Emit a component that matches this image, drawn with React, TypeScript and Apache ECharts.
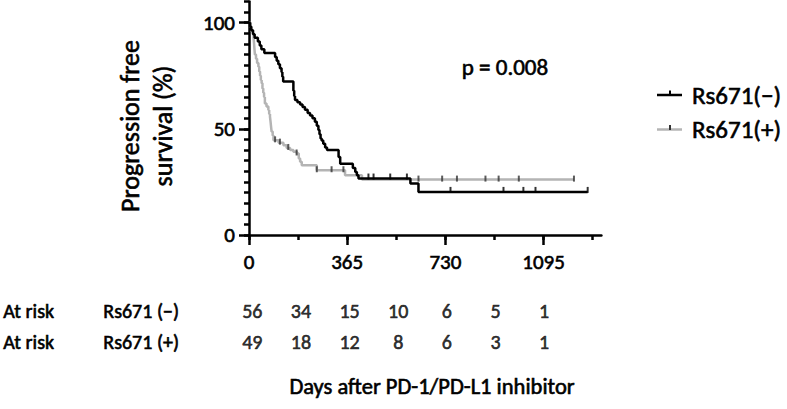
import React, { useEffect, useRef } from "react";
import * as echarts from "echarts";

// ---- Kaplan–Meier curves (day, survival %) ----
const blackDays = [0, 4, 8, 15, 21, 33, 40, 46, 57, 97, 103, 109, 115, 121, 124, 127, 165, 168, 171, 180, 190, 199, 208, 218, 227, 236, 245, 252, 258, 262, 266, 270, 276, 283, 290, 333, 339, 386, 395, 401, 407, 600, 630, 1259];
const blackSurv = [100, 98.2, 96.4, 94.6, 92.9, 91.1, 89.3, 87.5, 85.7, 83.9, 82.1, 80.4, 78.6, 76.8, 74.5, 72.3, 68, 65.5, 63.6, 62.5, 61.5, 60.3, 59, 57.5, 56.3, 55, 53.4, 51.5, 49.5, 47.5, 45.5, 44.5, 43, 41.2, 40, 36.8, 33.6, 31.6, 29.7, 28.1, 26.6, 24.3, 20.3, 20.3];

const grayDays = [0, 6, 10, 14, 17, 19, 20, 22, 26, 30, 35, 38, 41, 44, 47, 50, 53, 56, 59, 65, 72, 75, 78, 80, 82, 84, 88, 91, 110, 128, 140, 153, 165, 178, 185, 190, 196, 252, 357, 420, 1208];
const graySurv = [100, 98, 96, 95, 93, 90, 88, 85, 83, 81, 79.3, 77, 75, 73, 71.5, 69, 67, 65, 62, 60.5, 58.9, 57, 55.7, 53.5, 51, 48.7, 46.9, 44.6, 43.5, 42.3, 41, 40, 39.2, 38.4, 36, 34.5, 32.9, 30.5, 28.2, 26.1, 26.1];

// censored observations
const blackCensorDays = [444, 463, 525, 587, 749, 946, 1020, 1065, 1259];
const blackCensorSurv = [26.6, 26.6, 26.6, 26.6, 20.3, 20.3, 20.3, 20.3, 20.3];
const grayCensorDays = [97, 115, 146, 177, 252, 307, 351, 630, 718, 773, 879, 928, 1003, 1208];
const grayCensorSurv = [44.6, 43.5, 41, 38.4, 30.5, 30.5, 30.5, 26.1, 26.1, 26.1, 26.1, 26.1, 26.1, 26.1];

// ---- number at risk ----
const riskDays = [0, 182.5, 365, 547.5, 730, 912.5, 1095];
const riskNeg = [56, 34, 15, 10, 6, 5, 1];
const riskPos = [49, 18, 12, 8, 6, 3, 1];
const riskRows = ["Rs671 (+)", "Rs671 (−)"];

// ---- ticks ----
const xMajorTicks = [0, 365, 730, 1095];
const xMinorTicks = [0, 182.5, 365, 547.5, 730, 912.5, 1095, 1277.5];
const yMajorTicks = [0, 50, 100];
const yMinorTicks = [0, 5, 10, 15, 20, 25, 30, 35, 40, 45, 50, 55, 60, 65, 70, 75, 80, 85, 90, 95, 100, 105, 110];

const FONT = "Carlito, Lato, 'Noto Sans', sans-serif";
const X_MAX = 1310;
const Y_MAX = 110;
const BOLDEN = 0.6;

export default function App() {
  const ref = useRef<HTMLDivElement>(null);
  useEffect(() => {
    if (!ref.current) return;
    const chart = echarts.init(ref.current, undefined, { renderer: "svg" });
    const zip = (a: number[], b: number[]) => a.map((v, i) => [v, b[i]]);
    const axisLineStyle = { color: "#000", width: 2.5 };
    const txt = (size: number) => ({
      fontSize: size, fontFamily: FONT, color: "#000",
      textBorderColor: "#000", textBorderWidth: BOLDEN,
    });
    const gtxt = (text: string, size: number, align: string) => ({
      text, fontSize: size, fontFamily: FONT, fill: "#000", stroke: "#000", lineWidth: BOLDEN,
      align, verticalAlign: "middle",
    });
    const riskLabel = {
      show: true, position: "inside", formatter: (p: any) => String(p.value[2]), ...txt(20),
    };
    const option: any = {
      animation: false,
      backgroundColor: "#fff",
      grid: [
        { left: 249, top: 1.5, width: 352.4, height: 233.5 },
        { left: 249, top: 295.2, width: 352.4, height: 62 },
      ],
      xAxis: [
        {
          type: "value", gridIndex: 0, min: 0, max: X_MAX, position: "bottom",
          axisLine: { lineStyle: axisLineStyle },
          axisTick: { show: true, customValues: xMinorTicks, length: 5, lineStyle: axisLineStyle },
          axisLabel: { show: false },
          splitLine: { show: false },
        },
        {
          type: "value", gridIndex: 0, min: 0, max: X_MAX, position: "bottom",
          axisLine: { show: false },
          axisTick: { show: true, customValues: xMajorTicks, length: 10, lineStyle: axisLineStyle },
          axisLabel: {
            show: true, customValues: xMajorTicks, formatter: (v: number) => String(v),
            margin: 16, ...txt(21),
          },
          splitLine: { show: false },
        },
        { type: "value", gridIndex: 1, min: 0, max: X_MAX, show: false },
      ],
      yAxis: [
        {
          type: "value", gridIndex: 0, min: 0, max: Y_MAX, position: "left",
          axisLine: { show: true, lineStyle: axisLineStyle },
          axisTick: { show: true, customValues: yMinorTicks, length: 5, lineStyle: axisLineStyle },
          axisLabel: { show: false },
          splitLine: { show: false },
        },
        {
          type: "value", gridIndex: 0, min: 0, max: Y_MAX, position: "left",
          axisLine: { show: false },
          axisTick: { show: true, customValues: yMajorTicks, length: 10, lineStyle: axisLineStyle },
          axisLabel: {
            show: true, customValues: yMajorTicks, formatter: (v: number) => String(v),
            margin: 14, ...txt(21),
          },
          splitLine: { show: false },
        },
        {
          type: "category", gridIndex: 1, data: riskRows, position: "left",
          axisLine: { show: false }, axisTick: { show: false }, splitLine: { show: false },
          axisLabel: {
            margin: 12,
            formatter: (v: string) => `{a|At risk}{b|${v}}`,
            rich: {
              a: { width: 100, align: "left", ...txt(20) },
              b: { width: 137, align: "left", ...txt(20) },
            },
          },
        },
      ],
      series: [
        {
          type: "line", name: "Rs671(+)", xAxisIndex: 0, yAxisIndex: 0, step: "end",
          data: zip(grayDays, graySurv), symbol: "none",
          lineStyle: { color: "#b4b4b4", width: 2.5 }, z: 2,
        },
        {
          type: "line", name: "Rs671(−)", xAxisIndex: 0, yAxisIndex: 0, step: "end",
          data: zip(blackDays, blackSurv), symbol: "none",
          lineStyle: { color: "#000", width: 2.5 }, z: 3,
        },
        {
          type: "scatter", xAxisIndex: 0, yAxisIndex: 0, data: zip(grayCensorDays, grayCensorSurv),
          symbol: "rect", symbolSize: [2, 6], symbolOffset: [0, -1], itemStyle: { color: "#333" }, z: 4,
        },
        {
          type: "scatter", xAxisIndex: 0, yAxisIndex: 0, data: zip(blackCensorDays, blackCensorSurv),
          symbol: "rect", symbolSize: [2, 6], symbolOffset: [0, -2], itemStyle: { color: "#000" }, z: 4,
        },
        {
          type: "scatter", xAxisIndex: 2, yAxisIndex: 2,
          data: riskDays.map((d, i) => [d, riskRows[1], riskNeg[i]]),
          symbolSize: 1, itemStyle: { color: "transparent" }, label: riskLabel,
        },
        {
          type: "scatter", xAxisIndex: 2, yAxisIndex: 2,
          data: riskDays.map((d, i) => [d, riskRows[0], riskPos[i]]),
          symbolSize: 1, itemStyle: { color: "transparent" }, label: riskLabel,
        },
      ],
      graphic: [
        {
          type: "text", x: 146.5, y: 126, rotation: Math.PI / 2,
          style: { ...gtxt("Progression free\nsurvival (%)", 26, "center"), lineHeight: 33 },
        },
        { type: "text", x: 432, y: 386, style: gtxt("Days after PD-1/PD-L1 inhibitor", 22.5, "center") },
        { type: "text", x: 505, y: 67, style: gtxt("p = 0.008", 23, "center") },
        { type: "line", shape: { x1: 657, y1: 95, x2: 682, y2: 95 }, style: { stroke: "#000", lineWidth: 2.5 } },
        { type: "rect", shape: { x: 669, y: 90.5, width: 2, height: 5 }, style: { fill: "#000" } },
        { type: "text", x: 692, y: 95, style: gtxt("Rs671(−)", 25, "left") },
        { type: "line", shape: { x1: 657, y1: 129.5, x2: 682, y2: 129.5 }, style: { stroke: "#b4b4b4", lineWidth: 2.5 } },
        { type: "rect", shape: { x: 669, y: 125, width: 2, height: 5 }, style: { fill: "#333" } },
        { type: "text", x: 692, y: 129.5, style: gtxt("Rs671(+)", 25, "left") },
      ],
    };
    chart.setOption(option);
    return () => chart.dispose();
  }, []);
  return <div ref={ref} style={{ position: "absolute", left: 0, top: 0, width: 787, height: 409 }} />;
}
